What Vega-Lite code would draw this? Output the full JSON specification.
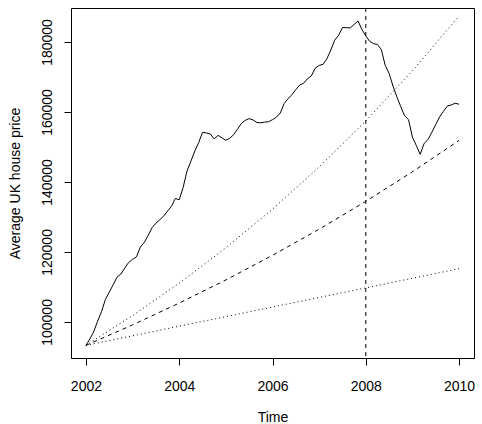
{
  "$schema": "https://vega.github.io/schema/vega-lite/v6.json",
  "width": 403,
  "height": 350,
  "autosize": {"type": "none"},
  "padding": {"left": 71, "top": 8, "right": 8, "bottom": 66},
  "background": "white",
  "config": {
    "view": {"stroke": "#000", "strokeWidth": 1},
    "font": "Liberation Sans",
    "axis": {
      "domain": false,
      "grid": false,
      "tickColor": "#000",
      "tickWidth": 1,
      "tickSize": 7,
      "labelColor": "#000",
      "labelFont": "Liberation Sans",
      "labelFontSize": 14,
      "labelOverlap": false,
      "labelFlush": false,
      "titleColor": "#000",
      "titleFont": "Liberation Sans",
      "titleFontSize": 14,
      "titleFontWeight": "normal"
    }
  },
  "datasets": {
    "price": [
      {"t": 2002.0, "v": 93300}, {"t": 2002.0833, "v": 95100}, {"t": 2002.1667, "v": 97200},
      {"t": 2002.25, "v": 100200}, {"t": 2002.3333, "v": 102900}, {"t": 2002.4167, "v": 106400},
      {"t": 2002.5, "v": 108500}, {"t": 2002.5833, "v": 110600}, {"t": 2002.6667, "v": 112800},
      {"t": 2002.75, "v": 113700}, {"t": 2002.8333, "v": 115400}, {"t": 2002.9167, "v": 117000},
      {"t": 2003.0, "v": 117900}, {"t": 2003.0833, "v": 118600}, {"t": 2003.1667, "v": 121400},
      {"t": 2003.25, "v": 122700}, {"t": 2003.3333, "v": 124700}, {"t": 2003.4167, "v": 126900},
      {"t": 2003.5, "v": 128200}, {"t": 2003.5833, "v": 129200}, {"t": 2003.6667, "v": 130200},
      {"t": 2003.75, "v": 131700}, {"t": 2003.8333, "v": 133000}, {"t": 2003.9167, "v": 135300},
      {"t": 2004.0, "v": 134900}, {"t": 2004.0833, "v": 138400}, {"t": 2004.1667, "v": 143100},
      {"t": 2004.25, "v": 145900}, {"t": 2004.3333, "v": 148800}, {"t": 2004.4167, "v": 151200},
      {"t": 2004.5, "v": 154200}, {"t": 2004.5833, "v": 154000}, {"t": 2004.6667, "v": 153700},
      {"t": 2004.75, "v": 152300}, {"t": 2004.8333, "v": 153300}, {"t": 2004.9167, "v": 152600},
      {"t": 2005.0, "v": 151900}, {"t": 2005.0833, "v": 152500}, {"t": 2005.1667, "v": 153500},
      {"t": 2005.25, "v": 155100}, {"t": 2005.3333, "v": 156700}, {"t": 2005.4167, "v": 157600},
      {"t": 2005.5, "v": 158100}, {"t": 2005.5833, "v": 157700}, {"t": 2005.6667, "v": 157000},
      {"t": 2005.75, "v": 156900}, {"t": 2005.8333, "v": 157100}, {"t": 2005.9167, "v": 157200},
      {"t": 2006.0, "v": 157800}, {"t": 2006.0833, "v": 158500}, {"t": 2006.1667, "v": 159700},
      {"t": 2006.25, "v": 162400}, {"t": 2006.3333, "v": 163800}, {"t": 2006.4167, "v": 164900},
      {"t": 2006.5, "v": 166400}, {"t": 2006.5833, "v": 167700}, {"t": 2006.6667, "v": 168200},
      {"t": 2006.75, "v": 169500}, {"t": 2006.8333, "v": 170300}, {"t": 2006.9167, "v": 172500},
      {"t": 2007.0, "v": 173300}, {"t": 2007.0833, "v": 173600}, {"t": 2007.1667, "v": 175200},
      {"t": 2007.25, "v": 177700}, {"t": 2007.3333, "v": 180500}, {"t": 2007.4167, "v": 181900},
      {"t": 2007.5, "v": 184100}, {"t": 2007.5833, "v": 184100}, {"t": 2007.6667, "v": 184000},
      {"t": 2007.75, "v": 185000}, {"t": 2007.8333, "v": 186000}, {"t": 2007.9167, "v": 183600},
      {"t": 2008.0, "v": 181700}, {"t": 2008.0833, "v": 180200}, {"t": 2008.1667, "v": 179500},
      {"t": 2008.25, "v": 179300}, {"t": 2008.3333, "v": 177800}, {"t": 2008.4167, "v": 173300},
      {"t": 2008.5, "v": 171000}, {"t": 2008.5833, "v": 167400}, {"t": 2008.6667, "v": 164300},
      {"t": 2008.75, "v": 161500}, {"t": 2008.8333, "v": 158900}, {"t": 2008.9167, "v": 157800},
      {"t": 2009.0, "v": 152800}, {"t": 2009.0833, "v": 150400}, {"t": 2009.1667, "v": 147900},
      {"t": 2009.25, "v": 151000}, {"t": 2009.3333, "v": 152100}, {"t": 2009.4167, "v": 154200},
      {"t": 2009.5, "v": 156400}, {"t": 2009.5833, "v": 158600}, {"t": 2009.6667, "v": 160200},
      {"t": 2009.75, "v": 161700}, {"t": 2009.8333, "v": 162000}, {"t": 2009.9167, "v": 162500},
      {"t": 2010.0, "v": 162200}
    ],
    "paths": [
      {"s": "high", "t": 2002, "v": 93300}, {"s": "high", "t": 2003, "v": 101800},
      {"s": "high", "t": 2004, "v": 111070}, {"s": "high", "t": 2005, "v": 121190},
      {"s": "high", "t": 2006, "v": 132230}, {"s": "high", "t": 2007, "v": 144280},
      {"s": "high", "t": 2008, "v": 157420}, {"s": "high", "t": 2009, "v": 171770},
      {"s": "high", "t": 2010, "v": 187410},
      {"s": "mid", "t": 2002, "v": 93300}, {"s": "mid", "t": 2003, "v": 99160},
      {"s": "mid", "t": 2004, "v": 105390}, {"s": "mid", "t": 2005, "v": 112000},
      {"s": "mid", "t": 2006, "v": 119040}, {"s": "mid", "t": 2007, "v": 126510},
      {"s": "mid", "t": 2008, "v": 134460}, {"s": "mid", "t": 2009, "v": 142900},
      {"s": "mid", "t": 2010, "v": 151880},
      {"s": "low", "t": 2002, "v": 93300}, {"s": "low", "t": 2003, "v": 96040},
      {"s": "low", "t": 2004, "v": 98780}, {"s": "low", "t": 2005, "v": 101520},
      {"s": "low", "t": 2006, "v": 104260}, {"s": "low", "t": 2007, "v": 107000},
      {"s": "low", "t": 2008, "v": 109740}, {"s": "low", "t": 2009, "v": 112480},
      {"s": "low", "t": 2010, "v": 115220}
    ],
    "marker": [{"t": 2008}]
  },
  "layer": [
    {
      "data": {"name": "price"},
      "mark": {"type": "line", "color": "#000", "strokeWidth": 1, "clip": true},
      "encoding": {
        "x": {
          "field": "t",
          "type": "quantitative",
          "scale": {"domain": [2001.68, 2010.32], "nice": false, "zero": false},
          "axis": {
            "values": [2002, 2004, 2006, 2008, 2010],
            "format": "d",
            "title": "Time",
            "labelBaseline": "alphabetic",
            "labelPadding": 25,
            "titleBaseline": "bottom",
            "titleAlign": "center",
            "titleX": 201.5,
            "titleY": 66
          }
        },
        "y": {
          "field": "v",
          "type": "quantitative",
          "scale": {"domain": [89696, 189704], "nice": false, "zero": false},
          "axis": {
            "values": [100000, 120000, 140000, 160000, 180000],
            "format": "d",
            "title": "Average UK house price",
            "labelAngle": 270,
            "labelAlign": "center",
            "labelBaseline": "alphabetic",
            "labelPadding": 12.5,
            "titleAngle": 270,
            "titleAlign": "center",
            "titleBaseline": "alphabetic",
            "titleX": -51.5,
            "titleY": 175
          }
        }
      }
    },
    {
      "data": {"name": "paths"},
      "mark": {"type": "line", "color": "#000", "strokeWidth": 1, "clip": true},
      "encoding": {
        "x": {"field": "t", "type": "quantitative"},
        "y": {"field": "v", "type": "quantitative"},
        "strokeDash": {
          "field": "s",
          "type": "nominal",
          "scale": {"domain": ["high", "mid", "low"], "range": [[1, 3], [4, 4], [1, 3]]},
          "legend": null
        }
      }
    },
    {
      "data": {"name": "marker"},
      "mark": {"type": "rule", "color": "#000", "strokeWidth": 1, "strokeDash": [4, 4]},
      "encoding": {
        "x": {"field": "t", "type": "quantitative"}
      }
    }
  ]
}
